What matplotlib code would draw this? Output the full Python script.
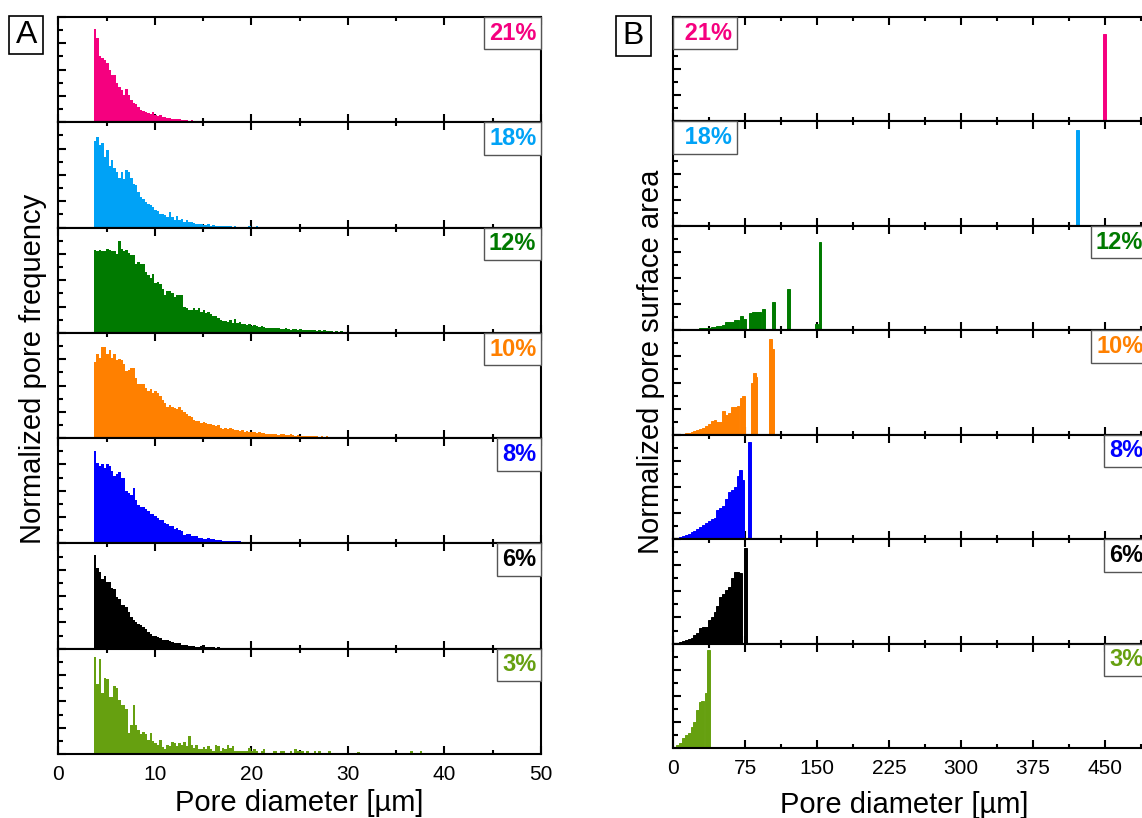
import numpy as np
import matplotlib
matplotlib.use("Agg")
import matplotlib.pyplot as plt
from matplotlib.ticker import MultipleLocator
from matplotlib.patches import Rectangle

plt.rcParams["font.family"] = ["Liberation Sans", "DejaVu Sans"]

# ---------------------------------------------------------------- data
porosity = ["21%", "18%", "12%", "10%", "8%", "6%", "3%"]
colors = ["#F5007F", "#00A2F6", "#007A00", "#FF8000", "#0000FF", "#000000", "#66A010"]

# Panel A: pore size histograms, bins of 0.25 µm starting at 3.7 µm
freq_start = 3.7
freq_bin = 0.25
freq_21 = [7.1, 6.4, 5.0, 4.9, 4.7, 4.5, 4.0, 3.6, 3.6, 3.0,
           2.7, 2.45, 2.05, 2.5, 2.05, 1.7, 1.5, 1.4, 1.15, 0.9,
           0.85, 0.8, 0.7, 0.65, 0.75, 0.55, 0.45, 0.55, 0.43, 0.4,
           0.3, 0.33, 0.28, 0.25, 0.27, 0.22, 0.2, 0.18, 0.15, 0.12,
           0.15, 0.08, 0.1, 0.12, 0.05, 0.1, 0.0, 0.08, 0.05, 0.1,
           0.0, 0.05, 0.0, 0.08, 0.0, 0.0, 0.05, 0.0, 0.06, 0.0,
           0.0, 0.0, 0.0, 0.0, 0.1, 0.1, 0.0, 0.0, 0.1, 0.0,
           0.0, 0.0, 0.1]
freq_18 = [6.6, 6.9, 6.3, 6.4, 5.4, 5.9, 4.7, 5.1, 4.5, 4.2,
           3.8, 4.2, 3.7, 4.35, 4.2, 3.8, 3.3, 3.2, 2.7, 2.3,
           2.2, 1.95, 1.8, 1.7, 1.55, 1.35, 1.25, 1.05, 1.0, 0.95,
           0.8, 1.15, 0.8, 0.6, 0.85, 0.6, 0.65, 0.45, 0.6, 0.45,
           0.4, 0.35, 0.3, 0.3, 0.25, 0.2, 0.2, 0.25, 0.15, 0.2,
           0.15, 0.15, 0.1, 0.15, 0.1, 0.12, 0.1, 0.08, 0.1, 0.05,
           0.08, 0.05, 0.08, 0.05, 0.1, 0.05, 0.08, 0.1, 0.05, 0.0,
           0.06, 0.0, 0.0, 0.05, 0.0, 0.0, 0.0, 0.0, 0.0, 0.08,
           0.0, 0.0, 0.0, 0.0, 0.0, 0.08]
freq_12 = [6.3, 6.2, 6.3, 6.2, 6.2, 6.4, 6.3, 6.2, 6.2, 6.0,
           7.0, 6.4, 6.2, 6.3, 6.1, 5.9, 5.9, 5.2, 5.4, 5.2,
           5.2, 4.6, 4.4, 4.2, 4.5, 3.8, 3.9, 3.7, 3.3, 2.9,
           3.2, 3.2, 3.0, 2.7, 2.9, 2.9, 2.9, 2.0, 1.9, 1.75,
           1.75, 1.9, 1.75, 1.9, 1.6, 1.75, 1.5, 1.55, 1.4, 1.25,
           1.25, 1.1, 1.0, 0.9, 0.9, 0.8, 1.0, 0.75, 1.05, 0.75,
           0.85, 0.65, 0.65, 0.6, 0.7, 0.55, 0.6, 0.5, 0.45, 0.5,
           0.45, 0.4, 0.4, 0.35, 0.4, 0.35, 0.35, 0.3, 0.3, 0.35,
           0.3, 0.25, 0.3, 0.3, 0.25, 0.3, 0.25, 0.2, 0.25, 0.2,
           0.2, 0.2, 0.15, 0.2, 0.15, 0.18, 0.15, 0.12, 0.15, 0.1,
           0.12, 0.1, 0.12, 0.08, 0.1, 0.1, 0.08, 0.1, 0.06, 0.08,
           0.05, 0.08, 0.06, 0.05, 0.08, 0.0, 0.05, 0.06, 0.0, 0.05,
           0.05, 0.0, 0.06, 0.0, 0.05, 0.0, 0.0, 0.05, 0.0, 0.05]
freq_10 = [5.8, 6.4, 6.1, 6.9, 6.9, 6.4, 6.7, 6.1, 6.4, 5.9,
           6.0, 5.9, 5.6, 5.1, 5.2, 5.3, 5.3, 4.6, 4.1, 4.1,
           4.1, 3.8, 3.6, 3.7, 3.4, 3.6, 3.4, 3.2, 2.9, 2.7,
           2.4, 2.5, 2.4, 2.3, 2.2, 2.35, 2.15, 2.0, 1.8, 1.65,
           1.6, 1.4, 1.3, 1.3, 1.15, 1.2, 1.15, 1.05, 1.05, 1.0,
           0.9, 1.0, 0.8, 0.7, 0.75, 0.7, 0.8, 0.7, 0.65, 0.6,
           0.55, 0.6, 0.5, 0.55, 0.5, 0.45, 0.5, 0.4, 0.45, 0.4,
           0.38, 0.35, 0.3, 0.35, 0.3, 0.3, 0.25, 0.3, 0.28, 0.25,
           0.22, 0.3, 0.25, 0.2, 0.25, 0.2, 0.2, 0.18, 0.2, 0.15,
           0.18, 0.15, 0.18, 0.12, 0.15, 0.12, 0.15, 0.1, 0.12, 0.1,
           0.12, 0.1, 0.08, 0.1, 0.1, 0.08, 0.1, 0.08, 0.06, 0.08,
           0.08, 0.06, 0.08, 0.05, 0.06, 0.08, 0.05, 0.06, 0.05, 0.05,
           0.06, 0.05, 0.0, 0.05, 0.06, 0.05, 0.0, 0.05, 0.05, 0.0,
           0.05, 0.06, 0.0, 0.05, 0.0, 0.05, 0.05, 0.0, 0.05, 0.0,
           0.05, 0.0, 0.05, 0.05, 0.0, 0.0, 0.05, 0.0, 0.06, 0.0,
           0.0, 0.05, 0.0, 0.0, 0.05, 0.0, 0.0, 0.05, 0.0, 0.0,
           0.05, 0.0, 0.0, 0.0, 0.05, 0.0, 0.0, 0.05, 0.0, 0.0,
           0.0, 0.05, 0.0, 0.0, 0.0, 0.05, 0.0, 0.0, 0.0, 0.05,
           0.0, 0.0, 0.05, 0.0, 0.0]
freq_8 = [7.0, 6.1, 5.9, 6.0, 5.7, 6.0, 5.9, 5.5, 5.1, 5.3,
          5.4, 5.0, 5.0, 4.0, 3.8, 3.7, 4.2, 3.3, 2.95, 2.8,
          2.75, 2.65, 2.5, 2.25, 2.2, 2.05, 1.95, 1.8, 1.8, 1.55,
          1.5, 1.35, 1.3, 1.1, 1.15, 1.05, 0.95, 0.65, 0.7, 0.7,
          0.6, 0.55, 0.55, 0.4, 0.45, 0.35, 0.35, 0.4, 0.33, 0.3,
          0.28, 0.25, 0.25, 0.22, 0.2, 0.2, 0.2, 0.18, 0.15, 0.15,
          0.15, 0.12, 0.12, 0.1, 0.12, 0.1, 0.1, 0.08, 0.1, 0.08,
          0.08, 0.1, 0.06, 0.08, 0.06, 0.05, 0.08, 0.05, 0.06, 0.05,
          0.05, 0.06, 0.05, 0.0, 0.05, 0.05, 0.0, 0.05, 0.06, 0.0,
          0.05, 0.0, 0.05, 0.0, 0.05, 0.0, 0.0, 0.05, 0.0, 0.05,
          0.0, 0.0, 0.05, 0.0, 0.0, 0.05, 0.0, 0.0, 0.0, 0.05,
          0.0, 0.0, 0.0, 0.05, 0.0, 0.0, 0.0, 0.0, 0.05, 0.0,
          0.0, 0.0, 0.0, 0.0, 0.05, 0.0, 0.0, 0.0, 0.0, 0.05,
          0.0, 0.0, 0.0, 0.0, 0.0, 0.05, 0.0, 0.0, 0.0, 0.0,
          0.0, 0.0, 0.0, 0.0, 0.0, 0.0, 0.05, 0.0, 0.0, 0.0,
          0.0, 0.0, 0.0, 0.0, 0.0, 0.0, 0.0, 0.0, 0.05]
freq_6 = [7.1, 6.1, 5.85, 5.3, 5.5, 5.1, 5.1, 4.6, 4.5, 3.95,
          3.8, 3.3, 3.3, 3.2, 2.8, 2.4, 2.15, 2.0, 1.9, 1.8,
          1.65, 1.5, 1.25, 1.15, 1.0, 0.95, 0.9, 0.8, 0.7, 0.7,
          0.65, 0.55, 0.5, 0.45, 0.4, 0.4, 0.3, 0.25, 0.25, 0.2,
          0.2, 0.2, 0.15, 0.15, 0.18, 0.3, 0.12, 0.1, 0.1, 0.12,
          0.08, 0.1, 0.08, 0.08, 0.05, 0.08, 0.05, 0.05, 0.0, 0.05]
freq_3 = [7.35, 5.3, 7.2, 4.6, 5.8, 5.7, 4.3, 4.3, 5.2, 5.0,
          4.1, 3.75, 3.75, 3.4, 1.6, 2.2, 3.75, 2.2, 1.85, 1.5,
          1.7, 1.5, 1.1, 1.6, 0.95, 0.85, 0.7, 1.1, 0.5, 0.35,
          0.7, 0.6, 0.9, 0.85, 0.6, 0.85, 0.7, 0.9, 0.6, 1.4,
          0.7, 0.45, 0.7, 0.4, 0.35, 0.5, 0.4, 0.6, 0.35, 0.2,
          0.65, 0.6, 0.25, 0.45, 0.35, 0.65, 0.45, 0.6, 0.25, 0.2,
          0.25, 0.2, 0.25, 0.2, 0.45, 0.2, 0.4, 0.2, 0.0, 0.25,
          0.4, 0.0, 0.0, 0.0, 0.2, 0.2, 0.0, 0.2, 0.2, 0.0,
          0.0, 0.25, 0.0, 0.35, 0.2, 0.2, 0.2, 0.0, 0.25, 0.0,
          0.0, 0.2, 0.0, 0.25, 0.0, 0.0, 0.0, 0.2, 0.0, 0.0,
          0.0, 0.0, 0.0, 0.0, 0.0, 0.0, 0.0, 0.0, 0.0, 0.15,
          0.0, 0.0, 0.0, 0.0, 0.0, 0.0, 0.0, 0.0, 0.0, 0.0,
          0.0, 0.0, 0.0, 0.0, 0.0, 0.0, 0.0, 0.0, 0.0, 0.0,
          0.0, 0.2, 0.0, 0.0, 0.0, 0.2]
freq_series = [freq_21, freq_18, freq_12, freq_10, freq_8, freq_6, freq_3]

# Panel B: surface-area weighted distributions (bin centre in µm, height)
area_bin = 3.0
area_x_21 = [3, 6, 9, 12, 15, 18, 21, 450]
area_h_21 = [0.07, 0.07, 0.07, 0.07, 0.07, 0.07, 0.07, 6.7]
area_x_18 = [3, 6, 9, 12, 15, 18, 21, 24, 421.5]
area_h_18 = [0.07, 0.07, 0.07, 0.07, 0.07, 0.07, 0.07, 0.07, 7.35]
area_x_12 = [1.5, 4.5, 7.5, 10.5, 13.5, 16.5, 19.5, 22.5, 25.5, 28.5,
             31.5, 34.5, 37.5, 40.5, 43.5, 46.5, 49.5, 52.5, 55.5, 58.5,
             61.5, 64.5, 67.5, 71.5, 74.5, 80.5, 83.5, 86.5, 89.5, 94.0,
             104.5, 120.5, 149.0, 153.0]
area_h_12 = [0.04, 0.05, 0.05, 0.06, 0.07, 0.08, 0.09, 0.1, 0.12, 0.14,
             0.16, 0.18, 0.2, 0.24, 0.27, 0.31, 0.34, 0.42, 0.6, 0.64,
             0.66, 0.76, 0.78, 1.1, 0.9, 1.3, 1.4, 1.42, 1.4, 1.6,
             2.17, 3.2, 0.5, 6.8]
area_x_10 = [1.5, 4.5, 7.5, 10.5, 13.5, 16.5, 19.5, 22.5, 25.5, 28.5,
             31.5, 34.5, 37.5, 40.5, 43.5, 46.5, 49.5, 52.5, 55.5, 58.5,
             61.5, 64.5, 67.5, 71.0, 73.5, 83.0, 84.5, 86.0, 101.0, 103.2]
area_h_10 = [0.03, 0.05, 0.06, 0.08, 0.11, 0.16, 0.22, 0.3, 0.36, 0.45,
             0.54, 0.64, 0.85, 1.05, 1.15, 0.97, 1.0, 1.8, 1.5, 1.65,
             2.1, 2.15, 2.2, 2.8, 2.95, 4.0, 4.7, 4.4, 7.35, 6.6]
area_x_8 = [1.5, 4.5, 7.5, 10.5, 13.5, 16.5, 19.5, 22.5, 25.5, 28.5,
            31.5, 34.5, 37.5, 40.5, 43.5, 46.5, 49.5, 52.5, 55.5, 58.5,
            61.5, 64.5, 67.5, 70.5, 72.5, 79.2]
area_h_8 = [0.04, 0.08, 0.15, 0.22, 0.3, 0.4, 0.52, 0.64, 0.78, 0.93,
            1.1, 1.25, 1.4, 1.55, 1.65, 2.25, 2.4, 2.55, 3.1, 3.6,
            3.8, 4.0, 4.8, 5.3, 4.5, 7.45]
area_x_6 = [1.5, 4.5, 7.5, 10.5, 13.5, 16.5, 19.5, 22.5, 25.5, 28.5,
            31.5, 34.5, 37.5, 40.5, 43.5, 46.5, 49.5, 52.5, 55.5, 58.5,
            61.5, 64.5, 67.5, 69.8, 75.0]
area_h_6 = [0.04, 0.08, 0.12, 0.17, 0.25, 0.32, 0.42, 0.64, 0.8, 1.2,
            1.25, 1.3, 1.8, 2.05, 2.4, 2.85, 3.55, 3.8, 4.1, 4.3,
            5.0, 5.5, 5.45, 5.4, 7.35]
area_x_3 = [1.5, 4.5, 7.5, 10.5, 13.5, 16.5, 19.5, 22.5, 25.5, 28.5,
            30.7, 35.0, 37.0]
area_h_3 = [0.08, 0.25, 0.4, 0.75, 1.0, 1.15, 1.6, 2.0, 2.9, 3.5,
            3.6, 4.2, 7.48]
area_series = [(area_x_21, area_h_21), (area_x_18, area_h_18),
               (area_x_12, area_h_12), (area_x_10, area_h_10),
               (area_x_8, area_h_8), (area_x_6, area_h_6),
               (area_x_3, area_h_3)]

ticks_a = [0, 10, 20, 30, 40, 50]
ticks_b = [0, 75, 150, 225, 300, 375, 450]

# ---------------------------------------------------------------- layout
W, H = 1142, 818
fig = plt.figure(figsize=(W / 100, H / 100), dpi=100)
fig.patch.set_facecolor("white")


def px_axes(left, top, width, height):
    return fig.add_axes([left / W, 1 - (top + height) / H, width / W, height / H])


def style(ax, xmax, major, minor, bottom_labels):
    ax.set_xlim(0, xmax)
    ax.set_ylim(0, 8)
    ax.set_axisbelow(True)
    for s in ax.spines.values():
        s.set_linewidth(1.5)
        s.set_color("black")
    ax.xaxis.set_major_locator(MultipleLocator(major))
    ax.xaxis.set_minor_locator(MultipleLocator(minor))
    ax.yaxis.set_major_locator(MultipleLocator(2))
    ax.yaxis.set_minor_locator(MultipleLocator(1))
    ax.tick_params(axis="x", which="both", direction="in", top=True, bottom=True,
                   width=1.5, labelbottom=bottom_labels, labelsize=15, pad=8)
    ax.tick_params(axis="x", which="major", length=6)
    ax.tick_params(axis="x", which="minor", length=3)
    ax.tick_params(axis="y", which="both", direction="in", left=True, right=False,
                   width=1.5, labelleft=False)
    ax.tick_params(axis="y", which="major", length=5.5)
    ax.tick_params(axis="y", which="minor", length=3.5)


def tag(ax, text, color, left=False):
    pad_px = 0.2 * 17 * 100 / 72
    if left:
        xy, off, ha = (0, 1), (pad_px, -pad_px), "left"
        text = " " + text
    else:
        xy, off, ha = (1, 1), (-pad_px, -pad_px), "right"
    ax.annotate(text, xy=xy, xycoords="axes fraction", xytext=off,
                textcoords="offset pixels", ha=ha, va="top", fontsize=17,
                fontweight="bold", color=color, zorder=5,
                bbox=dict(boxstyle="square,pad=0.2", fc="white", ec="#555555", lw=1))


n = len(porosity)

# Panel A
a_left, a_right, a_top, a_bottom = 58.3, 541.0, 17.0, 754.0
a_h = (a_bottom - a_top) / n
for i in range(n):
    ax = px_axes(a_left, a_top + i * a_h, a_right - a_left, a_h)
    heights = np.array(freq_series[i])
    edges = freq_start + freq_bin * np.arange(len(heights))
    ax.bar(edges, heights, width=freq_bin, align="edge", color=colors[i], linewidth=0)
    style(ax, 50, 10, 5, i == n - 1)
    tag(ax, porosity[i], colors[i])
    if i == n - 1:
        ax.set_xticks(ticks_a)
        ax.set_xticklabels([str(t) for t in ticks_a])

# Panel B
b_left, b_top, b_bottom = 673.3, 17.0, 748.0
b_xmax = 495
b_width = b_xmax * 0.959
b_h = (b_bottom - b_top) / n
for i in range(n):
    ax = px_axes(b_left, b_top + i * b_h, b_width, b_h)
    xs, hs = area_series[i]
    ax.bar(xs, hs, width=area_bin, color=colors[i], edgecolor=colors[i], linewidth=0.7)
    style(ax, b_xmax, 75, 37.5, i == n - 1)
    tag(ax, porosity[i], colors[i], left=(i < 2))
    if i == n - 1:
        ax.set_xticks(ticks_b)
        ax.set_xticklabels([str(t) for t in ticks_b])

# Axis titles
fig.text(33 / W, 1 - 369 / H, "Normalized pore frequency", rotation=90,
         ha="center", va="center", fontsize=21)
fig.text(651 / W, 1 - 362 / H, "Normalized pore surface area", rotation=90,
         ha="center", va="center", fontsize=21)
fig.text(299.6 / W, 1 - 803 / H, "Pore diameter [µm]", ha="center", va="center", fontsize=21)
fig.text(904 / W, 1 - 805 / H, "Pore diameter [µm]", ha="center", va="center", fontsize=21)

# Panel letters in boxes
for letter, (x0, y0, x1, y1) in [("A", (9, 15.7, 43.3, 54.3)), ("B", (616, 16, 650.5, 56))]:
    fig.add_artist(Rectangle((x0 / W, 1 - y1 / H), (x1 - x0) / W, (y1 - y0) / H,
                             transform=fig.transFigure, fc="white", ec="black", lw=1.2))
    fig.text((x0 + x1) / 2 / W, 1 - (y0 + y1) / 2 / H, letter, ha="center",
             va="center", fontsize=23)

fig.savefig("out.png", dpi=100)
